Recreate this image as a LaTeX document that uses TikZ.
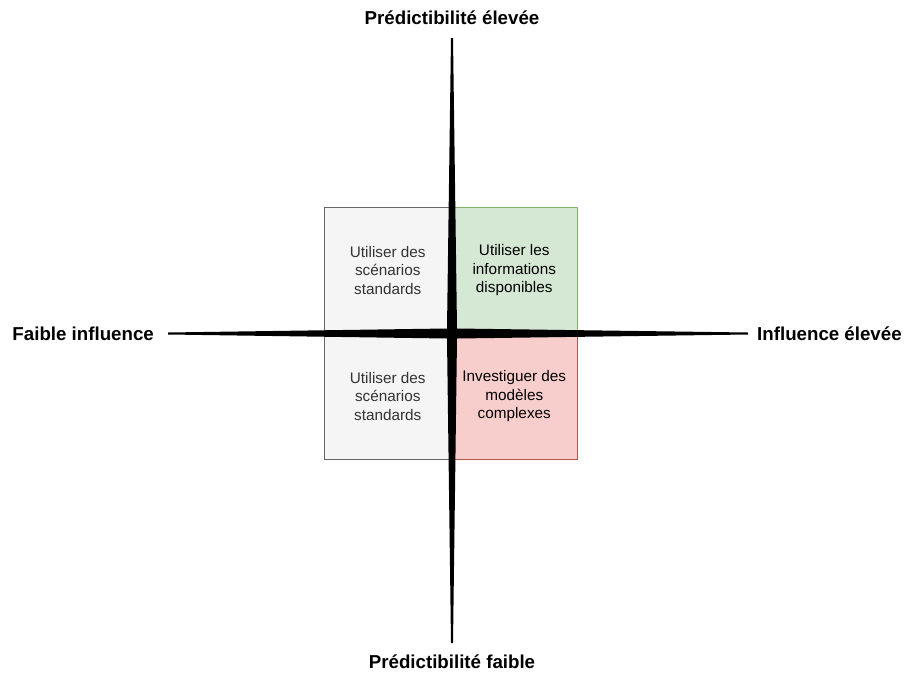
\documentclass[tikz,border=0pt]{standalone}
\usepackage{fontspec}
\setmainfont{Liberation Sans}
\usetikzlibrary{calc}
\definecolor{greyfill}{HTML}{F5F5F5}
\definecolor{greyline}{HTML}{666666}
\definecolor{greytext}{HTML}{333333}
\definecolor{greenfill}{HTML}{D5E8D4}
\definecolor{greenline}{HTML}{82B366}
\definecolor{redfill}{HTML}{F8CECC}
\definecolor{redline}{HTML}{B85450}
\tikzset{
  cell/.style={draw, line width=0.9pt, minimum width=126.5pt, minimum height=126pt, inner sep=0pt,
    align=center, font=\fontsize{15.3}{18.5}\selectfont},
  greycell/.style={cell, draw=greyline, fill=greyfill, text=greytext},
  greencell/.style={cell, draw=greenline, fill=greenfill, text=black},
  redcell/.style={cell, draw=redline, fill=redfill, text=black},
  axislabel/.style={font=\fontsize{18.7}{22}\selectfont\bfseries, inner sep=0pt}
}
\begin{document}
\begin{tikzpicture}[x=1pt,y=-1pt]
\useasboundingbox (0,0) rectangle (905,673);
% the four cells
\node[greycell]  (tl) at (387.75,270.5) {Utiliser des\\scénarios\\standards};
\node[greencell] (tr) at (514.25,270.5) {Utiliser les\\informations\\disponibles};
\node[greycell]  (bl) at (387.75,396.5) {Utiliser des\\scénarios\\standards};
\node[redcell]   (br) at (514.25,396.5) {Investiguer des\\modèles\\complexes};
% the star
\coordinate (c) at (452,333.5);
\coordinate (top) at (452,38);
\coordinate (bottom) at (452,643);
\coordinate (left) at (168,333.5);
\coordinate (right) at (748,333.5);
\fill ($(left)+(0,-1)$) -- ($(c)+(-5,-5)$) -- ($(top)+(-1,0)$) -- ($(top)+(1,0)$)
  -- ($(c)+(5,-5)$) -- ($(right)+(0,-1)$) -- ($(right)+(0,1)$)
  -- ($(c)+(5,5)$) -- ($(bottom)+(1,0)$) -- ($(bottom)+(-1,0)$)
  -- ($(c)+(-5,5)$) -- ($(left)+(0,1)$) -- cycle;
% axis labels
\node[axislabel] (high) at (452,18) {Prédictibilité élevée};
\node[axislabel] (low) at (452,662) {Prédictibilité faible};
\node[axislabel, anchor=east] (weak) at (154,333.5) {Faible influence};
\node[axislabel, anchor=west] (strong) at (757,333.5) {Influence élevée};
\end{tikzpicture}
\end{document}
